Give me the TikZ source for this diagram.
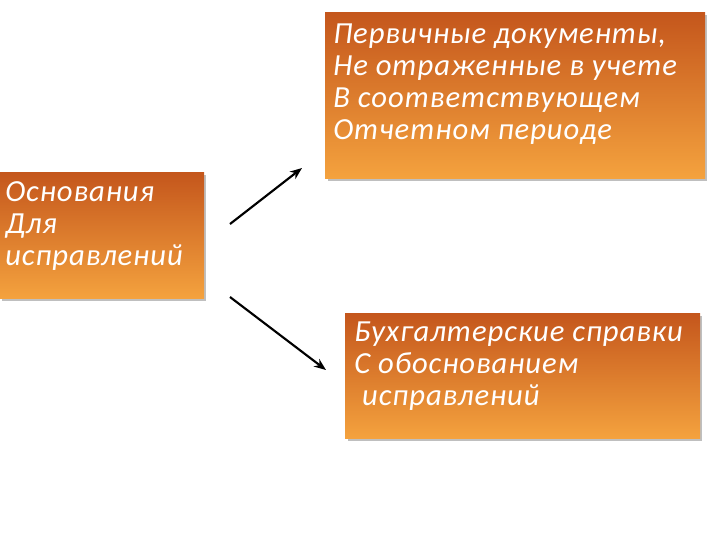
\documentclass[tikz,border=0pt]{standalone}
\usepackage{fontspec}
\setmainfont{Carlito}[LetterSpace=3]
\usetikzlibrary{arrows.meta}
\definecolor{otop}{HTML}{C4561C}
\definecolor{obot}{HTML}{F4A23E}
\tikzset{
  txt/.style={anchor=north west, text=white, align=left, inner sep=0pt,
    font=\fontsize{23}{24}\selectfont\itshape},
  shd/.style={fill=black, opacity=0.25},
  arr/.style={-{Stealth[length=9pt,width=7pt]}, line width=1.6pt, black}
}
\begin{document}
\begin{tikzpicture}[x=0.75pt,y=-0.75pt]
\useasboundingbox (0,0) rectangle (720,540);
\fill[shd] (328,15) rectangle (707,181);
\fill[shd] (2,175) rectangle (206,301);
\fill[shd] (348,316) rectangle (702,441);
\shade[top color=otop, bottom color=obot] (325,12) rectangle (705,178);
\shade[top color=otop, bottom color=obot] (0,172) rectangle (204,298);
\shade[top color=otop, bottom color=obot] (345,313) rectangle (700,438);
\node[txt] (t) at (333,24)
  {Первичные документы,\\Не отраженные в учете\\В соответствующем\\Отчетном периоде};
\node[txt] (l) at (5,181)
  {Основания\\Для\\исправлений};
\node[txt] (b) at (354,322)
  {Бухгалтерские справки\\С обоснованием\\\ исправлений};
\coordinate (a1s) at (230,224); \coordinate (a1e) at (302,168);
\coordinate (a2s) at (230,297); \coordinate (a2e) at (326,370);
\draw[arr] (a1s) -- (a1e);
\draw[arr] (a2s) -- (a2e);
\end{tikzpicture}
\end{document}
